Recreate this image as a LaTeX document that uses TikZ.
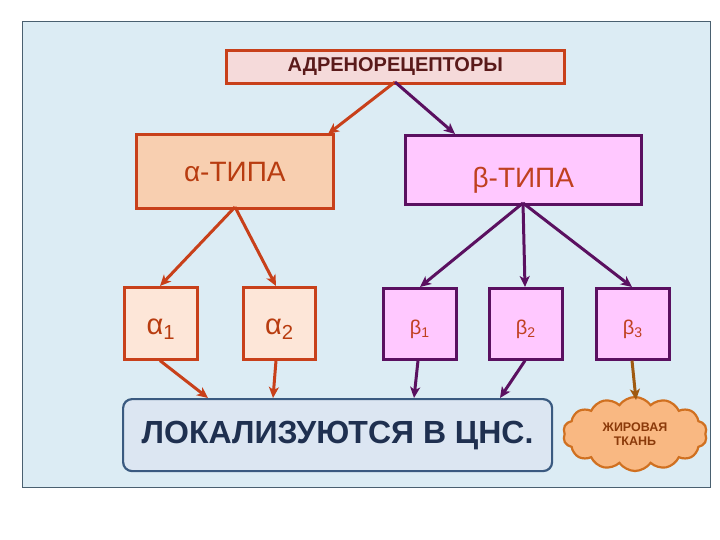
\documentclass[tikz,border=0pt]{standalone}
\usepackage{fontspec}
\setmainfont{Liberation Sans}
\usetikzlibrary{arrows.meta,shapes.symbols}
\definecolor{panelbg}{HTML}{DCECF4}
\definecolor{panelbd}{HTML}{4A6070}
\definecolor{orred}{HTML}{C8401A}
\definecolor{topfill}{HTML}{F5DADA}
\definecolor{topink}{HTML}{5A1A1A}
\definecolor{alfill}{HTML}{F8CFB0}
\definecolor{alsub}{HTML}{FDE6D8}
\definecolor{alink}{HTML}{B83C10}
\definecolor{befill}{HTML}{FFC8FF}
\definecolor{bebd}{HTML}{5A1060}
\definecolor{beink}{HTML}{C04020}
\definecolor{botfill}{HTML}{DCE6F2}
\definecolor{botbd}{HTML}{3A5A80}
\definecolor{botink}{HTML}{1F3050}
\definecolor{cloudfill}{HTML}{F9B882}
\definecolor{cloudbd}{HTML}{D07020}
\definecolor{cloudink}{HTML}{8B3A0A}
\definecolor{brownar}{HTML}{A05A10}
\begin{document}
\begin{tikzpicture}[x=1pt,y=-1pt,
  box/.style={draw,line width=2.6pt,inner sep=0pt,anchor=north west},
  tipst/.style={-{Stealth[length=11pt,width=10pt,inset=3pt]}},
  ara/.style={draw=orred,line width=3pt,tipst},
  arb/.style={draw=bebd,line width=3pt,tipst},
  arc/.style={draw=brownar,line width=3pt,tipst}]
\useasboundingbox (0,0) rectangle (720,540);
\fill[white] (0,0) rectangle (720,540);
\draw[panelbd,fill=panelbg,line width=1pt] (22,22) rectangle (710,487);

\node[box,draw=orred,fill=topfill,minimum width=338pt,minimum height=33pt,
  font=\bfseries\fontsize{20}{22}\selectfont,text=topink] (top) at (225,49) {АДРЕНОРЕЦЕПТОРЫ};

\node[box,draw=orred,fill=alfill,minimum width=197pt,minimum height=74pt,
  font=\fontsize{28}{30}\selectfont,text=alink,text depth=0pt,text height=20pt] (alpha) at (135,133) {α-ТИПА};
\node[box,draw=bebd,fill=befill,minimum width=236pt,minimum height=69pt,
  font=\fontsize{28}{30}\selectfont,text=beink,text depth=0pt,text height=35pt] (beta) at (404,134) {β-ТИПА};

\node[box,draw=orred,fill=alsub,minimum width=73pt,minimum height=72pt,
  font=\fontsize{29}{30}\selectfont,text=alink,text height=22pt,text depth=0pt] (a1) at (123,286) {α\textsubscript{1}};
\node[box,draw=orred,fill=alsub,minimum width=72pt,minimum height=72pt,
  font=\fontsize{29}{30}\selectfont,text=alink,text height=22pt,text depth=0pt] (a2) at (242,286) {α\textsubscript{2}};

\node[box,draw=bebd,fill=befill,minimum width=73pt,minimum height=71pt,
  font=\fontsize{20}{22}\selectfont,text=beink,text height=21pt,text depth=0pt] (b1) at (382,287) {β\textsubscript{1}};
\node[box,draw=bebd,fill=befill,minimum width=73pt,minimum height=71pt,
  font=\fontsize{20}{22}\selectfont,text=beink,text height=21pt,text depth=0pt] (b2) at (488,287) {β\textsubscript{2}};
\node[box,draw=bebd,fill=befill,minimum width=73pt,minimum height=71pt,
  font=\fontsize{20}{22}\selectfont,text=beink,text height=21pt,text depth=0pt] (b3) at (595,287) {β\textsubscript{3}};

\node[box,draw=botbd,fill=botfill,rounded corners=9pt,minimum width=429pt,minimum height=72pt,
  font=\bfseries\fontsize{32}{34}\selectfont,text=botink,line width=2.2pt] (cns) at (122,398) {ЛОКАЛИЗУЮТСЯ В ЦНС.};

\node[cloud,cloud puffs=14,cloud puff arc=110,aspect=1.9,draw=cloudbd,fill=cloudfill,line width=2.2pt,
  minimum width=144pt,minimum height=74pt,inner sep=0pt,align=center,
  font=\bfseries\fontsize{12.5}{14}\selectfont,text=cloudink] (fat) at (635,434) {ЖИРОВАЯ\\ТКАНЬ};

\coordinate (tS) at (395,82);
\coordinate (aS) at (235,207);
\coordinate (bS) at (523,203);
\draw[ara] (tS) -- (328,134);
\draw[arb] (tS) -- (455,134);
\draw[ara] (aS) -- (a1.north -| 160,0);
\draw[ara] (aS) -- (a2.north -| 276,0);
\draw[arb] (bS) -- (b1.north -| 420,0);
\draw[arb] (bS) -- (b2.north -| 525,0);
\draw[arb] (bS) -- (b3.north -| 632,0);
\draw[ara] (a1.south -| 160,0) -- (cns.north -| 208,0);
\draw[ara] (a2.south -| 276,0) -- (cns.north -| 273,0);
\draw[arb] (b1.south -| 418,0) -- (cns.north -| 414,0);
\draw[arb] (b2.south -| 525,0) -- (cns.north -| 500,0);
\draw[arc] (b3.south -| 632,0) -- (636,400);
\end{tikzpicture}
\end{document}
